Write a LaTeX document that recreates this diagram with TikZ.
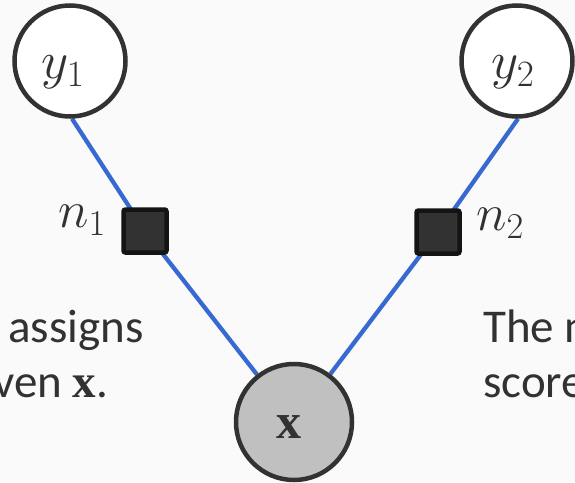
\RequirePackage{fix-cm}
\documentclass[tikz,border=0pt]{standalone}
\usepackage[no-math]{fontspec}
\setmainfont{Carlito}
\newfontfamily\vecfamily{Liberation Serif}
\usetikzlibrary{backgrounds}

% bold upright serif letter for vectors
\newcommand\bfvec[1]{{\vecfamily\bfseries #1}}

\definecolor{paper}{RGB}{250,250,250}
\definecolor{ink}{RGB}{50,50,50}
\definecolor{varfill}{RGB}{192,192,192}
\definecolor{facfill}{RGB}{50,50,50}
\definecolor{facedge}{RGB}{20,20,20}
\definecolor{edgeblue}{RGB}{55,105,210}

\tikzset{
  varnode/.style={circle, draw=ink, line width=4.5pt, fill=white,
    minimum size=111pt, inner sep=0pt, text=ink},
  obsnode/.style={varnode, fill=varfill, minimum size=116pt},
  varlabel/.style={text=ink, inner sep=0pt, font=\fontsize{53}{56}\selectfont},
  factor/.style={rectangle, rounded corners=2pt, draw=facedge, line width=4.5pt,
    fill=facfill, minimum size=43pt, inner sep=0pt},
  factorlabel/.style={text=ink, inner sep=0pt, font=\fontsize{52}{56}\selectfont},
  edgeline/.style={draw=edgeblue, line width=4.2pt},
  edgeshadow/.style={draw=black!25, line width=4.4pt, opacity=0.5},
  caption/.style={text=ink, inner sep=0pt, font=\fontsize{47}{55}\selectfont}
}

\begin{document}
\begin{tikzpicture}[x=1pt,y=-1pt]
  \useasboundingbox (0,0) rectangle (575,482);
  \clip (0,0) rectangle (575,482);

  % variables
  \node[varnode, label={[varlabel, xshift=-7pt, yshift=-11pt]center:$y_1$}] (y1) at (70,61) {};
  \node[varnode, label={[varlabel, xshift=-4pt, yshift=-11pt]center:$y_2$}] (y2) at (517,61) {};
  \node[obsnode, label={[varlabel, font=\fontsize{50}{52}\selectfont, xshift=-5pt, yshift=-5pt]center:\bfvec{x}}] (x) at (294,422) {};

  % factors
  \node[factor] (n1) at (145,231) {};
  \node[factor] (n2) at (438,232) {};
  \node[factorlabel] (ln1) at (82,220) {$n_1$};
  \node[factorlabel] (ln2) at (500,223) {$n_2$};

  % edges behind the nodes
  \begin{scope}[on background layer]
    \fill[paper] (0,0) rectangle (575,482);
    \draw[edgeshadow, shift={(1.5,1.5)}] (y1.-88) -- (n1.center) -- (x);
    \draw[edgeshadow, shift={(1.5,1.5)}] (y2.-89) -- (n2.center) -- (x);
    \draw[edgeline] (y1.-88) -- (n1.center) -- (x);
    \draw[edgeline] (y2.-89) -- (n2.center) -- (x);
  \end{scope}

  % running text at the sides
  \node[caption, anchor=base west] (capL1) at (8,342) {assigns};
  \node[caption, anchor=base west] (capL2) at (-7,397) {ven \bfvec{x}.};
  \node[caption, anchor=base west] (capR1) at (483,342) {The n};
  \node[caption, anchor=base west] (capR2) at (483,397) {score};
\end{tikzpicture}
\end{document}
